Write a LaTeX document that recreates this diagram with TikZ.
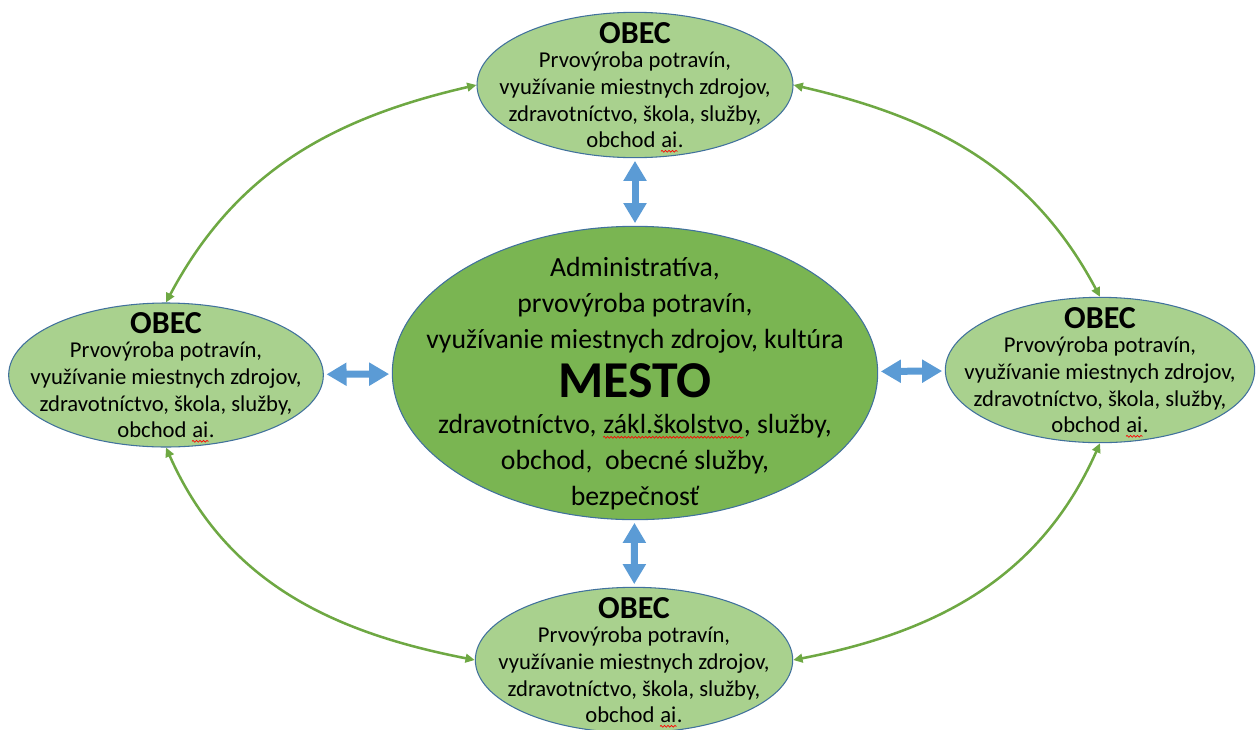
\documentclass[tikz,border=0pt]{standalone}
\usepackage{fontspec}
\setmainfont{Carlito}
\usetikzlibrary{arrows.meta,positioning,shapes.geometric,decorations.pathmorphing}

\definecolor{obecfill}{HTML}{A9D18E}
\definecolor{mestofill}{HTML}{7AB552}
\definecolor{rim}{HTML}{41719C}
\definecolor{duplexblue}{HTML}{5B9BD5}
\definecolor{vine}{HTML}{6EA843}

\newcommand{\typo}[1]{\tikz[baseline=(w.base)]{\node[inner sep=0pt] (w) {#1};
    \draw[red, line width=0.5pt, decorate, decoration={snake, amplitude=0.7pt, segment length=2.6pt}]
    ([yshift=-2.3pt]w.south west) -- ([yshift=-2.3pt]w.south east);}}

\begin{document}
\begin{tikzpicture}[x=0.75pt, y=0.75pt,
    obec/.style={ellipse, draw=rim, line width=0.8pt, fill=obecfill, inner sep=0pt,
        minimum width=237pt, minimum height=109pt},
    mesto/.style={ellipse, draw=rim, line width=0.8pt, fill=mestofill, inner sep=0pt,
        minimum width=364pt, minimum height=220pt},
    obectxt/.style={align=center, inner sep=0pt, font=\fontsize{17}{20}\selectfont},
    mestotxt/.style={align=center, inner sep=0pt, font=\fontsize{20.8}{27}\selectfont},
    duplex/.style={draw=duplexblue, line width=5.25pt, shorten <=2pt, shorten >=2pt,
        {Triangle[length=15pt, width=16.5pt]}-{Triangle[length=15pt, width=16.5pt]}},
    vinearrow/.style={draw=vine, line width=1.9pt,
        {Triangle[length=7pt, width=6.5pt]}-{Triangle[length=7pt, width=6.5pt]}}]
    \clip (0,0) rectangle (1256,-729);

    \node[mesto] (mesto) at (635,-373) {};
    \node[obec] (top) at (635,-85) {};
    \node[obec, minimum width=236pt, minimum height=108pt] (left) at (166,-375) {};
    \node[obec, minimum width=232pt] (right) at (1100,-370) {};
    \node[obec, minimum width=238pt] (bottom) at (634,-660) {};

    \foreach \n in {top,left,right,bottom}
        \node[obectxt] (\n txt) at ([yshift=-2pt]\n) {{\fontsize{24}{24}\selectfont\bfseries OBEC}\\[-2pt]
            Prvovýroba potravín,\\využívanie miestnych zdrojov,\\zdravotníctvo, škola, služby,\\obchod \typo{ai}.};

    \node[mestotxt] (mestotxt) at ([yshift=-8pt]mesto) {Administratíva,\\prvovýroba potravín,\\
        využívanie miestnych zdrojov, kultúra\\[7pt]
        {\fontsize{38.8}{38.8}\selectfont\bfseries MESTO}\\
        zdravotníctvo, \typo{zákl.školstvo}, služby,\\obchod, \ obecné služby,\\bezpečnosť};

    \draw[duplex] (top) -- (mesto);
    \draw[duplex] (mesto) -- (bottom);
    \draw[duplex] (left) -- (mesto);
    \draw[duplex] (mesto) -- (right);

    \draw[vinearrow] (top.west) to[out=193, in=62] (left.north);
    \draw[vinearrow] (top.east) to[out=-13, in=118] (right.north);
    \draw[vinearrow] (left.south) to[out=-66, in=169] (bottom.west);
    \draw[vinearrow] (right.south) to[out=246, in=11] (bottom.east);
\end{tikzpicture}
\end{document}
